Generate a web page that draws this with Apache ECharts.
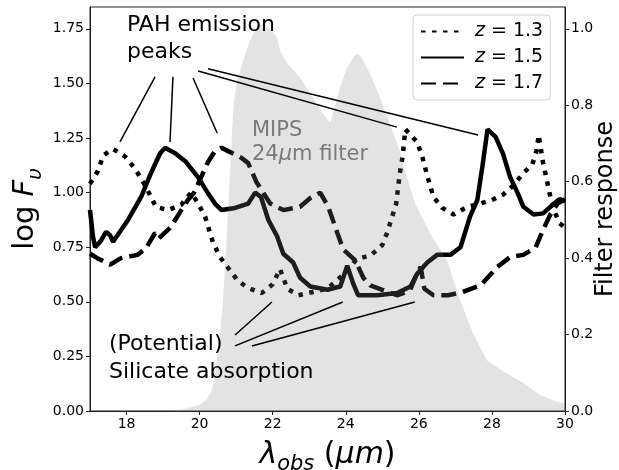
<!DOCTYPE html>
<html>
<head>
<meta charset="UTF-8">
<title></title>
<script src="https://cdn.jsdelivr.net/npm/echarts@6/dist/echarts.min.js"></script>
<style>
  html, body { margin: 0; padding: 0; background: #fff; }
  #chart { width: 619px; height: 470px; }
</style>
</head>
<body>
<div id="chart"></div>
<script>
// tick labels
var xTicks = [18, 20, 22, 24, 26, 28, 30];
var fluxTicks = [0, 0.25, 0.5, 0.75, 1.0, 1.25, 1.5, 1.75];
var filterTicks = [0, 0.2, 0.4, 0.6, 0.8, 1.0];

// series names
var names = ['z = 1.3', 'z = 1.5', 'z = 1.7'];

// [wavelength (um), log F]
var z13 = [[17.0,1.04],[17.22,1.1],[17.36,1.17],[17.63,1.2],[17.96,1.165],[18.23,1.11],[18.45,1.05],[18.64,0.99],[18.8,0.935],
  [19.14,0.92],[19.5,0.945],[19.77,1.0],[19.96,0.95],[20.15,0.89],[20.37,0.77],[20.56,0.705],[20.78,0.655],[21.03,0.6],
  [21.3,0.565],[21.7,0.54],[22.0,0.58],[22.2,0.65],[22.4,0.56],[22.7,0.53],[23.1,0.545],[23.5,0.56],[23.9,0.62],[24.3,0.695],
  [24.7,0.715],[25.0,0.76],[25.14,0.82],[25.27,0.89],[25.38,0.95],[25.48,1.09],[25.56,1.17],[25.63,1.29],[25.96,1.23],
  [26.1,1.16],[26.26,1.06],[26.4,0.98],[26.64,0.93],[26.95,0.9],[27.33,0.935],[27.68,0.95],[28.0,0.966],[28.3,0.99],
  [28.6,1.035],[28.86,1.09],[29.1,1.127],[29.22,1.19],[29.28,1.264],[29.4,1.136],[29.5,1.06],[29.6,0.98],[29.73,0.907],
  [29.85,0.86],[30.0,0.84]];
var z15 = [[17.0,0.92],[17.08,0.8],[17.14,0.75],[17.3,0.78],[17.44,0.82],[17.55,0.805],[17.63,0.775],[18.04,0.875],[18.4,0.98],
  [18.67,1.09],[18.92,1.18],[19.05,1.205],[19.33,1.18],[19.63,1.14],[19.96,1.07],[20.18,1.01],[20.42,0.95],[20.6,0.92],
  [20.97,0.93],[21.33,0.95],[21.52,1.0],[21.68,0.98],[21.88,0.875],[22.12,0.8],[22.29,0.72],[22.56,0.68],[22.75,0.61],
  [23.03,0.57],[23.5,0.555],[23.85,0.57],[24.04,0.665],[24.2,0.585],[24.34,0.53],[24.86,0.53],[25.41,0.54],[25.77,0.57],
  [25.96,0.63],[26.23,0.68],[26.5,0.715],[26.86,0.715],[27.14,0.75],[27.4,0.89],[27.6,0.966],[27.74,1.12],[27.88,1.29],
  [28.1,1.255],[28.3,1.18],[28.5,1.07],[28.7,1.0],[28.86,0.935],[29.14,0.9],[29.4,0.905],[29.7,0.95],[29.85,0.97],[30.0,0.96]];
var z17 = [[17.0,0.72],[17.2,0.7],[17.55,0.67],[17.85,0.7],[18.3,0.715],[18.53,0.745],[18.78,0.815],[18.88,0.79],[19.2,0.84],
  [19.5,0.92],[19.68,0.966],[19.85,1.0],[20.04,1.07],[20.23,1.14],[20.42,1.19],[20.6,1.205],[20.78,1.19],[21.14,1.16],
  [21.33,1.135],[21.55,1.05],[21.74,1.0],[21.93,0.95],[22.29,0.92],[22.75,0.935],[23.03,0.975],[23.3,1.0],[23.52,0.935],
  [23.77,0.815],[23.93,0.74],[24.26,0.69],[24.48,0.61],[24.67,0.575],[25.0,0.555],[25.4,0.53],[25.75,0.55],[25.95,0.63],
  [26.05,0.66],[26.15,0.56],[26.4,0.53],[26.8,0.53],[27.2,0.545],[27.7,0.577],[28.15,0.66],[28.5,0.705],[28.86,0.715],
  [29.2,0.75],[29.4,0.83],[29.6,0.9],[29.8,0.95],[30.0,0.97]];

// MIPS 24um filter response [wavelength, response]
var mips24 = [[17,0],[19,0],[19.5,0.004],[20.0,0.016],[20.2,0.03],[20.34,0.055],[20.4,0.08],[20.47,0.133],[20.56,0.2],
  [20.64,0.29],[20.72,0.42],[20.8,0.56],[20.88,0.72],[20.94,0.81],[21.03,0.864],[21.19,0.916],[21.38,0.969],[21.52,0.995],
  [21.71,1.013],[21.93,1.0],[22.12,0.977],[22.2,0.943],[22.4,0.909],[22.75,0.872],[23.1,0.82],[23.38,0.778],[23.57,0.755],
  [23.65,0.778],[23.84,0.846],[24.03,0.898],[24.2,0.924],[24.3,0.935],[24.4,0.93],[24.66,0.883],[24.94,0.82],[25.2,0.752],
  [25.48,0.68],[25.7,0.603],[25.9,0.543],[26.3,0.465],[26.77,0.394],[27.13,0.29],[27.48,0.204],[27.86,0.133],[28.4,0.099],
  [28.86,0.073],[29.32,0.042],[29.78,0.024],[30,0.02]];

// annotation pointer lines, in data coords
var pahLines = [
  [[18.78,1.53],[17.82,1.232]],
  [[19.27,1.53],[19.19,1.232]],
  [[19.82,1.525],[20.48,1.273]],
  [[19.96,1.557],[25.4,1.30]],
  [[20.23,1.567],[27.62,1.264]]
];
var silicateLines = [
  [[20.97,0.348],[21.98,0.499]],
  [[20.97,0.298],[23.92,0.499]],
  [[21.43,0.298],[25.89,0.499]]
];

var FONT = 'DejaVu Sans';
var myChart = echarts.init(document.getElementById('chart'));

var lineStyles = [
  { color: '#000', width: 4.5, type: [4.5, 6.5], cap: 'butt' },
  { color: '#000', width: 4.5, type: 'solid' },
  { color: '#000', width: 4.5, type: [15, 7], cap: 'butt' }
];

var markData = pahLines.concat(silicateLines).map(function (l) {
  return [{ coord: l[0] }, { coord: l[1] }];
});

var series = [z13, z15, z17].map(function (d, i) {
  return {
    name: names[i],
    type: 'line',
    data: d,
    symbol: 'none',
    lineStyle: lineStyles[i],
    itemStyle: { color: '#000' },
    emphasis: { disabled: true },
    z: 2
  };
});
series[0].markLine = {
  silent: true,
  symbol: ['none', 'none'],
  label: { show: false },
  lineStyle: { color: '#000', width: 1.5, type: 'solid' },
  emphasis: { disabled: true },
  data: markData
};
series.push({
  name: 'MIPS',
  type: 'line',
  yAxisIndex: 1,
  data: mips24,
  symbol: 'none',
  silent: true,
  lineStyle: { width: 0 },
  areaStyle: { color: 'rgba(128,128,128,0.32)' },
  emphasis: { disabled: true },
  z: 3
});

var option = {
  animation: false,
  grid: { left: 90, right: 54, top: 7, bottom: 59, show: true, borderColor: '#222', borderWidth: 1,
    outerBoundsMode: 'none', containLabel: false },
  legend: {
    data: names,
    orient: 'vertical',
    left: 413,
    top: 15,
    padding: [7, 7, 7, 7],
    itemWidth: 43,
    itemHeight: 20,
    itemGap: 7,
    selectedMode: false,
    itemStyle: { opacity: 0 },
    borderColor: '#d0d0d0',
    borderWidth: 1,
    borderRadius: 4,
    backgroundColor: 'rgba(255,255,255,0.8)',
    formatter: function (n) { return '{i|z}{n| = ' + n.split('= ')[1] + '}'; },
    textStyle: {
      color: '#000', fontFamily: FONT, fontSize: 19,
      rich: {
        i: { fontFamily: FONT, fontSize: 19, fontStyle: 'italic', color: '#000', padding: [0, 0, 0, 6] },
        n: { fontFamily: FONT, fontSize: 19, color: '#000' }
      }
    }
  },
  xAxis: {
    type: 'value', min: 17, max: 30, interval: 1,
    splitLine: { show: false },
    axisLine: { lineStyle: { color: '#222', width: 1 } },
    axisTick: { customValues: xTicks, length: 4, lineStyle: { color: '#222' } },
    axisLabel: { customValues: xTicks, color: '#000', fontFamily: FONT, fontSize: 14, margin: 6 },
    name: '{i|λ}{s|obs}{n| (}{i|μm}{n|)}',
    nameLocation: 'middle',
    nameMoveOverlap: false,
    nameGap: 24,
    nameTextStyle: {
      color: '#000', fontFamily: FONT, fontSize: 30,
      rich: {
        i: { fontFamily: FONT, fontSize: 30, fontStyle: 'italic', color: '#000', verticalAlign: 'bottom', lineHeight: 40, padding: [0, 0, 5, 0] },
        n: { fontFamily: FONT, fontSize: 30, color: '#000', verticalAlign: 'bottom', lineHeight: 40, padding: [0, 0, 5, 0] },
        s: { fontFamily: FONT, fontSize: 21, fontStyle: 'italic', color: '#000', verticalAlign: 'bottom', lineHeight: 40 }
      }
    }
  },
  yAxis: [{
    type: 'value', min: 0, max: 1.85,
    splitLine: { show: false },
    axisLine: { show: true, lineStyle: { color: '#222', width: 1 } },
    axisTick: { show: true, customValues: fluxTicks, length: 4, lineStyle: { color: '#222' } },
    axisLabel: { customValues: fluxTicks, color: '#000', fontFamily: FONT, fontSize: 14, margin: 6,
      formatter: function (v) { return v.toFixed(2); } },
    name: '{n|log }{i|F}{s|υ}',
    nameLocation: 'middle',
    nameMoveOverlap: false,
    nameRotate: 90,
    nameGap: 44,
    nameTextStyle: {
      color: '#000', fontFamily: FONT, fontSize: 29,
      rich: {
        n: { fontFamily: FONT, fontSize: 29, color: '#000', verticalAlign: 'bottom', lineHeight: 40, padding: [0, 0, 6, 0] },
        i: { fontFamily: FONT, fontSize: 29, fontStyle: 'italic', color: '#000', verticalAlign: 'bottom', lineHeight: 40, padding: [0, 0, 6, 0] },
        s: { fontFamily: FONT, fontSize: 20, fontStyle: 'italic', color: '#000', verticalAlign: 'bottom', lineHeight: 40 }
      }
    }
  }, {
    type: 'value', min: 0, max: 1.057, position: 'right',
    splitLine: { show: false },
    axisLine: { show: true, lineStyle: { color: '#222', width: 1 } },
    axisTick: { show: true, customValues: filterTicks, length: 4, lineStyle: { color: '#222' } },
    axisLabel: { customValues: filterTicks, color: '#000', fontFamily: FONT, fontSize: 14, margin: 6,
      formatter: function (v) { return v.toFixed(1); } },
    name: 'Filter response',
    nameLocation: 'middle',
    nameMoveOverlap: false,
    nameRotate: 90,
    nameGap: 29,
    nameTextStyle: { color: '#000', fontFamily: FONT, fontSize: 24 }
  }],
  graphic: [
    { type: 'text', left: 127, top: 12, z: 10, silent: true,
      style: { text: 'PAH emission\npeaks', font: '22px "DejaVu Sans"', lineHeight: 27, fill: '#000' } },
    { type: 'text', left: 252, top: 119, z: 10, silent: true,
      style: { text: '{n|MIPS}\n{n|24}{i|μ}{n|m filter}', lineHeight: 24, fill: '#7a7a7a',
        rich: {
          n: { fontFamily: FONT, fontSize: 21, lineHeight: 24, fill: '#7a7a7a' },
          i: { fontFamily: FONT, fontSize: 21, lineHeight: 24, fontStyle: 'italic', fill: '#7a7a7a' }
        } } },
    { type: 'text', left: 109, top: 330, z: 10, silent: true,
      style: { text: '(Potential)\nSilicate absorption', font: '22px "DejaVu Sans"', lineHeight: 28, fill: '#000' } }
  ],
  series: series
};

myChart.setOption(option);
window.addEventListener('resize', function () { myChart.resize(); });
</script>
</body>
</html>
